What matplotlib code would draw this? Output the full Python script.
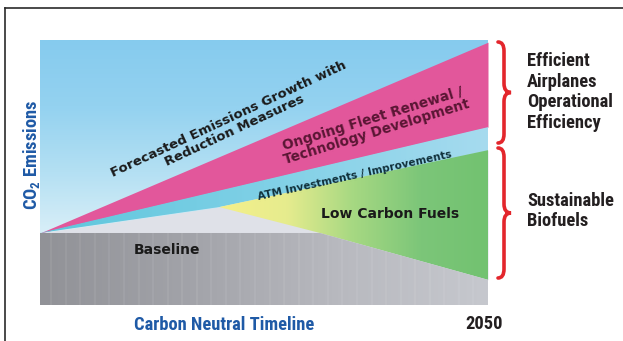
import numpy as np
import matplotlib
matplotlib.use("Agg")
import matplotlib.pyplot as plt
from matplotlib import font_manager
from matplotlib.colors import LinearSegmentedColormap
from matplotlib.path import Path
from matplotlib.patches import PathPatch
from matplotlib.lines import Line2D

# ---------------- data (emissions index, baseline = 100) ----------------
forecast_years = [2010, 2050]
forecast_top = [100, 365]          # forecasted emissions growth (top of pink band)
fleet_bottom = [100, 247]          # after fleet renewal / technology
atm_years = [2010, 2026, 2050]
atm_bottom = [100, 136, 215]       # after ATM improvements
fuel_years = [2026, 2035, 2050]
fuel_bottom = [136, 100, 35]       # after low carbon fuels
baseline_years = [2010, 2035, 2050]
baseline = [100, 100, 35]

band_labels = ["Forecasted Emissions Growth with\nReduction Measures",
               "Ongoing Fleet Renewal /\nTechnology Development",
               "ATM Investments / Improvements",
               "Low Carbon Fuels",
               "Baseline"]
group_labels = ["Efficient\nAirplanes\nOperational\nEfficiency",
                "Sustainable\nBiofuels"]
end_year_label = "2050"

# pick a condensed font if one is installed
available = {f.name for f in font_manager.fontManager.ttflist}
narrow_font, narrow_size, lsp = "Liberation Sans", 11.0, 1.15
for cand, size, sp in [("Liberation Sans Narrow", 13.5, 1.15), ("Roboto Condensed", 13.3, 1.2),
                       ("DejaVu Sans Condensed", 11.5, 1.15), ("Open Sans Condensed", 13.3, 1.1)]:
    if cand in available:
        narrow_font, narrow_size, lsp = cand, size, sp
        break
narrow = [narrow_font, "DejaVu Sans"]

W, H = 623, 341
fig = plt.figure(figsize=(W / 100, H / 100), dpi=100)
fig.patch.set_facecolor("white")
ax = fig.add_axes([40 / W, (H - 305) / H, 448 / W, 265 / H])
ax.set_xlim(2010, 2050)
ax.set_ylim(0, 368)
ax.set_autoscale_on(False)
for s in ax.spines.values():
    s.set_visible(False)
ax.set_xticks([])
ax.set_yticks([])

grid = np.linspace(2010, 2050, 401)
f_top = np.interp(grid, forecast_years, forecast_top)
f_bot = np.interp(grid, forecast_years, fleet_bottom)
a_bot = np.interp(grid, atm_years, atm_bottom)
b_line = np.interp(grid, baseline_years, baseline)
fmask = grid >= fuel_years[0]
fu_bot = np.interp(grid[fmask], fuel_years, fuel_bottom)


def grad_fill(x, lo, hi, colors, horizontal=True, z=1):
    poly = ax.fill_between(x, lo, hi, facecolor="none", edgecolor="none", zorder=z)
    cmap = LinearSegmentedColormap.from_list("g", colors)
    n = 256
    arr = np.linspace(0, 1, n)[None, :] if horizontal else np.linspace(0, 1, n)[:, None]
    im = ax.imshow(arr, cmap=cmap, extent=[x.min(), x.max(), np.min(lo), np.max(hi)],
                   origin="lower", aspect="auto", zorder=z, interpolation="bilinear")
    im.set_clip_path(poly.get_paths()[0], ax.transData)
    return im


# sky background (vertical gradient)
sky = LinearSegmentedColormap.from_list("sky", ["#f0f9fc", "#dcf0f8", "#b4e0f3", "#94d2f0", "#86cbee"])
ax.imshow(np.linspace(0, 1, 256)[:, None], cmap=sky, extent=[2010, 2050, 0, 368],
          origin="lower", aspect="auto", zorder=0, interpolation="bilinear")

# pink band: fleet renewal / technology
ax.fill_between(grid, f_bot, f_top, color="#e2579b", lw=0, zorder=2)
# ATM band
grad_fill(grid, a_bot, f_bot, ["#5ec6dc", "#7fd0e6", "#a6dbef"], horizontal=True, z=2)
# light gap between ATM band and baseline
ax.fill_between(grid, b_line, a_bot, where=a_bot >= b_line, color="#dfe1e8", lw=0, zorder=2)
# low carbon fuels (yellow -> green)
grad_fill(grid[fmask], fu_bot, a_bot[fmask], ["#f5f08a", "#e6ec8e", "#a6d882", "#7cc679", "#72c270"],
          horizontal=True, z=3)
# baseline (grey gradient)
grad_fill(grid, np.zeros_like(grid), b_line, ["#919297", "#a2a3a9", "#b8b9bf", "#c6c8ce"],
          horizontal=True, z=4)
# subtle vertical texture in the baseline block
base_poly = ax.fill_between(grid, 0, b_line, facecolor="none", edgecolor="none")
for xv in np.arange(2011, 2050, 1.3):
    ln = ax.axvline(xv, color="white", alpha=0.08, lw=1.2, zorder=5)
    ln.set_clip_path(base_poly.get_paths()[0], ax.transData)

# band labels
bold = dict(family="DejaVu Sans", weight="bold")
ax.text(2027.1, 250, band_labels[0], rotation=25, ha="center", va="center",
        rotation_mode="anchor", fontsize=9.5, color="#1a1a1a", linespacing=1.0, zorder=6, **bold)
ax.text(2039.9, 249, band_labels[1], rotation=17, ha="center", va="center",
        rotation_mode="anchor", fontsize=9.8, color="#5a1634", linespacing=1.0, zorder=6, **bold)
ax.text(2038.1, 180, band_labels[2], rotation=12.5, ha="center", va="center",
        rotation_mode="anchor", fontsize=7.6, color="#10303a", zorder=6, **bold)
ax.text(2041.3, 127, band_labels[3], ha="center", va="center",
        fontsize=10, color="#1a1a1a", zorder=6, **bold)
ax.text(2021.3, 76, band_labels[4], ha="center", va="center",
        fontsize=10, color="#1a1a1a", zorder=6, **bold)

# axis labels
plt.rcParams["mathtext.default"] = "regular"
fig.text(224 / W, 1 - 325 / H, "Carbon Neutral Timeline", ha="center", va="center",
         family=narrow, weight="bold", fontsize=narrow_size, color="#1f5aa6")
fig.text(484 / W, 1 - 324 / H, end_year_label, ha="center", va="center",
         family=narrow, weight="bold", fontsize=narrow_size, color="#231f20")
fig.text(31 / W, 1 - 155 / H, "CO$_2$ Emissions", ha="center", va="center", rotation=90,
         family=narrow, weight="bold", fontsize=narrow_size, color="#1f5aa6")

# group labels
fig.text(527 / W, 1 - 92 / H, group_labels[0], ha="left", va="center", family=narrow,
         weight="bold", fontsize=narrow_size, color="#231f20", linespacing=lsp)
fig.text(527 / W, 1 - 211 / H, group_labels[1], ha="left", va="center", family=narrow,
         weight="bold", fontsize=narrow_size, color="#231f20", linespacing=lsp)


# curly braces (figure pixel coords)
def brace(ytop, ybot, x0=498, w1=6, w2=13, h=9):
    ym = (ytop + ybot) / 2
    pts = [(x0, ytop), (x0 + w1, ytop), (x0 + w1, ytop + h),
           (x0 + w1, ym - h), (x0 + w1, ym), (x0 + w2, ym),
           (x0 + w1, ym), (x0 + w1, ym + h),
           (x0 + w1, ybot - h), (x0 + w1, ybot), (x0, ybot)]
    codes = [Path.MOVETO, Path.CURVE3, Path.CURVE3,
             Path.LINETO, Path.CURVE3, Path.CURVE3,
             Path.CURVE3, Path.CURVE3,
             Path.LINETO, Path.CURVE3, Path.CURVE3]
    pts = [(px / W, 1 - py / H) for px, py in pts]
    fig.add_artist(PathPatch(Path(pts, codes), fill=False, edgecolor="#e3262c",
                             lw=2.6, transform=fig.transFigure, capstyle="round"))


brace(42, 143)
brace(148, 278)

# outer frame lines (top and left)
fig.add_artist(Line2D([5 / W, 1], [1 - 8 / H, 1 - 8 / H], color="#2b2b2b", lw=1.2,
                      transform=fig.transFigure))
fig.add_artist(Line2D([5 / W, 5 / W], [0, 1 - 8 / H], color="#2b2b2b", lw=1.2,
                      transform=fig.transFigure))

fig.savefig("out.png", dpi=100, facecolor="white")
